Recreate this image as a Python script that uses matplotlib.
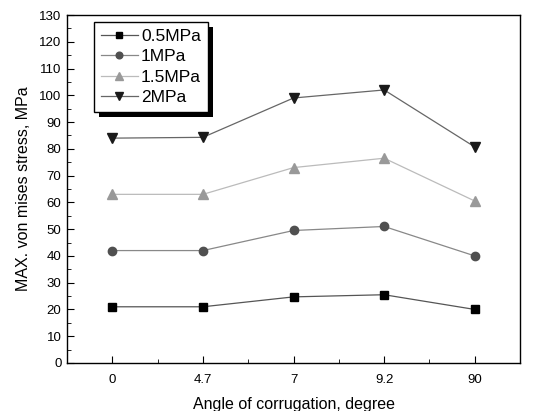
import matplotlib

matplotlib.use("Agg")
import matplotlib.pyplot as plt
import numpy as np
from matplotlib.patches import Rectangle
from matplotlib.ticker import MultipleLocator
from matplotlib.transforms import IdentityTransform

plt.rcParams["font.family"] = ["Liberation Sans", "DejaVu Sans"]

angles = ["0", "4.7", "7", "9.2", "90"]
stress_05 = [21.0, 21.0, 24.7, 25.5, 20.0]
stress_1 = [42.0, 42.0, 49.5, 51.0, 40.0]
stress_15 = [63.0, 63.0, 73.0, 76.5, 60.5]
stress_2 = [84.0, 84.3, 99.0, 102.0, 80.7]
series_labels = ["0.5MPa", "1MPa", "1.5MPa", "2MPa"]

styles = [
    dict(marker="s", color="#555555", mfc="black", mec="black", ms=6),
    dict(marker="o", color="#888888", mfc="#505050", mec="#505050", ms=6),
    dict(marker="^", color="#bbbbbb", mfc="#999999", mec="#999999", ms=7.5),
    dict(marker="v", color="#666666", mfc="#1a1a1a", mec="#1a1a1a", ms=7.5),
]

fig = plt.figure(figsize=(5.34, 4.11), dpi=100)
ax = fig.add_axes([0.1255, 0.1168, 0.8485, 0.8467])

x = np.arange(len(angles))
for values, label, st in zip([stress_05, stress_1, stress_15, stress_2], series_labels, styles):
    ax.plot(x, values, lw=0.9, label=label, **st)

ax.set_xlim(-0.5, len(angles) - 0.5)
ax.set_ylim(0, 130)
ax.set_xticks(x)
ax.set_xticklabels(angles)
ax.set_xticks(x[:-1] + 0.5, minor=True)
ax.yaxis.set_major_locator(MultipleLocator(10))
ax.yaxis.set_minor_locator(MultipleLocator(5))
ax.tick_params(which="both", direction="in", labelsize=9.5, pad=8)
ax.tick_params(which="major", length=5)
ax.tick_params(which="minor", length=3)
ax.tick_params(axis="y", pad=4)
for sp in ax.spines.values():
    sp.set_linewidth(1.0)

ax.set_xlabel("Angle of corrugation, degree", fontsize=11.5, labelpad=8)
ax.set_ylabel("MAX. von mises stress, MPa", fontsize=11.5, labelpad=6)

leg = ax.legend(
    loc="upper left",
    bbox_to_anchor=(0.06, 0.98),
    fontsize=12.5,
    frameon=True,
    fancybox=False,
    markerscale=0.8,
    handlelength=2.1,
    handletextpad=0.2,
    labelspacing=0.3,
    borderpad=0.4,
    borderaxespad=0,
)
leg.get_frame().set_edgecolor("black")
leg.get_frame().set_linewidth(1.0)
leg.get_frame().set_alpha(1)

# solid black drop shadow offset to the lower right
fig.canvas.draw()
bb = leg.get_window_extent()
shadow = Rectangle((bb.x0 + 5, bb.y0 - 5), bb.width, bb.height, transform=IdentityTransform(),
                   facecolor="black", edgecolor="none", zorder=leg.get_zorder() - 0.1, clip_on=False)
ax.add_patch(shadow)

fig.savefig("out.png", dpi=100)
